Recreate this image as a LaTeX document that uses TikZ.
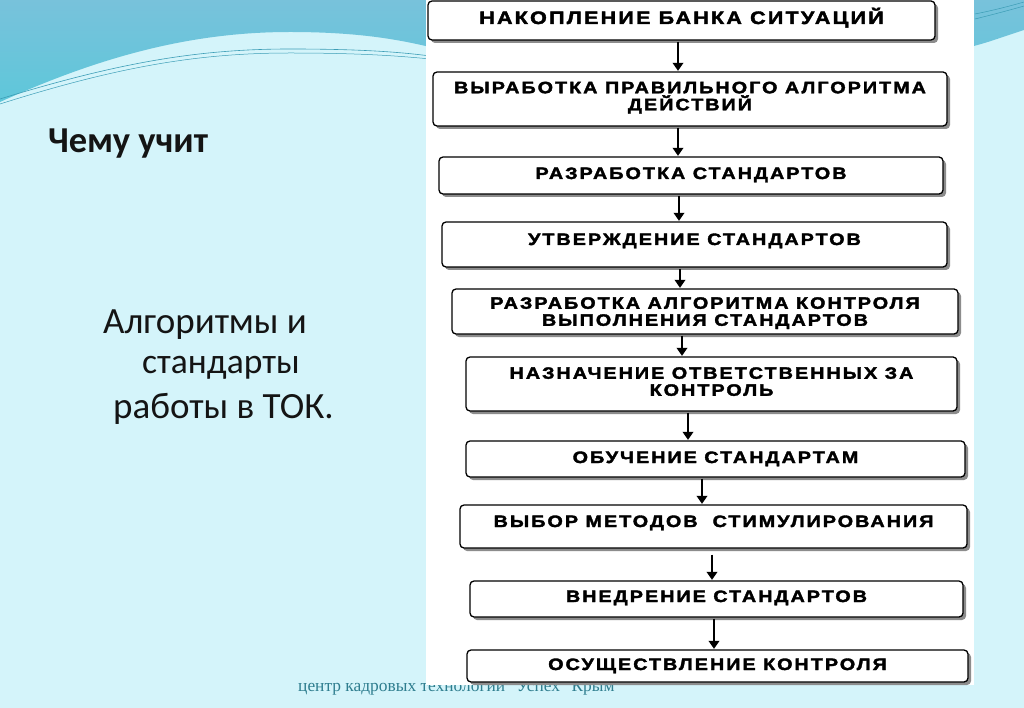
\documentclass[tikz,border=0pt]{standalone}
\usepackage{fontspec}
\usetikzlibrary{shadows,arrows.meta}
\setmainfont{Carlito}
\newfontfamily\boxfont[FakeStretch=1.2,LetterSpace=12,BoldFeatures={FakeBold=2.2}]{Liberation Sans}
\newfontfamily\footfont{Liberation Serif}
\definecolor{bglight}{HTML}{D4F4FA}
\definecolor{bgtop}{HTML}{78C2DB}
\definecolor{bgtopb}{HTML}{5EC7DA}
\definecolor{waveline}{HTML}{3C9DB6}
\definecolor{foottxt}{HTML}{2F7E8F}
\tikzset{
  stepbox/.style={draw=black, line width=1.3pt, fill=white, rounded corners=4pt,
    font=\boxfont\bfseries\fontsize{16.5}{17}\selectfont, align=center, inner sep=0pt,
    drop shadow={shadow xshift=3pt, shadow yshift=-3pt, fill=black!45, opacity=1}},
  oneline/.style={text height=12pt, text depth=#1},
  flow/.style={line width=2.8pt, -{Triangle[length=8pt,width=10.5pt]}, shorten >=0.5pt},
  lefttxt/.style={font=\fontsize{37}{40}\selectfont, text=black!92, anchor=base west, inner sep=0pt}
}
\begin{document}
\begin{tikzpicture}[x=1pt,y=-1pt]
\useasboundingbox (0,0) rectangle (1024,708);
% background
\fill[bglight] (0,0) rectangle (1024,708);
\shade[top color=bgtop, bottom color=bgtopb]
  (0,0) -- (0,102) .. controls (110,52) and (200,32) .. (290,32)
  .. controls (360,32) and (400,40) .. (430,47) -- (970,47)
  .. controls (990,42) and (1005,36) .. (1024,30) -- (1024,0) -- cycle;
\draw[waveline, line width=0.6pt] (0,99) .. controls (120,62) and (200,49) .. (290,49) .. controls (360,49) and (400,52) .. (430,56);
\draw[waveline, line width=0.5pt] (0,104) .. controls (120,66) and (200,53) .. (290,53) .. controls (360,53) and (400,56) .. (430,59);
\draw[waveline, line width=0.5pt] (975,14) .. controls (995,10) and (1010,6) .. (1024,2);
\draw[waveline, line width=0.5pt] (975,19) .. controls (995,14) and (1010,10) .. (1024,6);
% footer (partly under the panel)
\node[font=\footfont\fontsize{17.4}{19}\selectfont, text=foottxt, anchor=base west, inner sep=0pt] (foot) at (298,691) {центр кадровых технологий "Успех" Крым};
% white panel
\fill[white] (426,0) rectangle (974,685);
% left texts
\node[lefttxt, font=\bfseries\fontsize{36.5}{38}\selectfont] (title) at (48,153) {Чему учит};
\node[lefttxt] (l1) at (103,333) {Алгоритмы и};
\node[lefttxt, font=\fontsize{35.5}{40}\selectfont] (l2) at (142,373) {стандарты};
\node[lefttxt] (l3) at (113,418) {работы в ТОК.};
% boxes
\node[stepbox, oneline=5pt, font=\boxfont\bfseries\fontsize{18}{17}\selectfont, minimum width=507pt, minimum height=39pt] (b1) at (681.5,20.5) {НАКОПЛЕНИЕ БАНКА СИТУАЦИЙ};
\node[stepbox, text depth=6pt, minimum width=514pt, minimum height=54pt] (b2) at (690,99) {ВЫРАБОТКА ПРАВИЛЬНОГО АЛГОРИТМА\\ДЕЙСТВИЙ};
\node[stepbox, oneline=5pt, minimum width=504pt, minimum height=37pt] (b3) at (691,175.5) {РАЗРАБОТКА СТАНДАРТОВ};
\node[stepbox, oneline=11pt, minimum width=505pt, minimum height=45pt] (b4) at (694.5,244.5) {УТВЕРЖДЕНИЕ СТАНДАРТОВ};
\node[stepbox, text depth=0pt, minimum width=506pt, minimum height=45pt] (b5) at (705,311.5) {РАЗРАБОТКА АЛГОРИТМА КОНТРОЛЯ\\ВЫПОЛНЕНИЯ СТАНДАРТОВ};
\node[stepbox, text depth=5pt, minimum width=491pt, minimum height=54pt] (b6) at (711.5,384) {НАЗНАЧЕНИЕ ОТВЕТСТВЕННЫХ ЗА\\КОНТРОЛЬ};
\node[stepbox, oneline=4pt, minimum width=499pt, minimum height=36pt] (b7) at (715.5,459) {ОБУЧЕНИЕ СТАНДАРТАМ};
\node[stepbox, oneline=11pt, minimum width=507pt, minimum height=43pt] (b8) at (713.5,526.5) {ВЫБОР МЕТОДОВ \ СТИМУЛИРОВАНИЯ};
\node[stepbox, oneline=6pt, minimum width=493pt, minimum height=36pt] (b9) at (716.5,599) {ВНЕДРЕНИЕ СТАНДАРТОВ};
\node[stepbox, oneline=4pt, minimum width=501pt, minimum height=32pt] (b10) at (717.5,666) {ОСУЩЕСТВЛЕНИЕ КОНТРОЛЯ};
% arrow columns
\coordinate (a1) at (678,0);
\coordinate (a2) at (678,0);
\coordinate (a3) at (679,0);
\coordinate (a4) at (680,0);
\coordinate (a5) at (682,0);
\coordinate (a6) at (688,0);
\coordinate (a7) at (702,0);
\coordinate (a8) at (712,0);
\coordinate (a9) at (714,0);
\draw[flow] ([yshift=-1pt]b1.south -| a1) -- (b2.north -| a1);
\draw[flow] ([yshift=-1pt]b2.south -| a2) -- (b3.north -| a2);
\draw[flow] ([yshift=-1pt]b3.south -| a3) -- (b4.north -| a3);
\draw[flow] ([yshift=-1pt]b4.south -| a4) -- (b5.north -| a4);
\draw[flow] ([yshift=-1pt]b5.south -| a5) -- (b6.north -| a5);
\draw[flow] ([yshift=-1pt]b6.south -| a6) -- (b7.north -| a6);
\draw[flow] ([yshift=-1pt]b7.south -| a7) -- (b8.north -| a7);
\draw[flow] ([yshift=-6pt]b8.south -| a8) -- (b9.north -| a8);
\draw[flow] ([yshift=-1pt]b9.south -| a9) -- (b10.north -| a9);
\end{tikzpicture}
\end{document}
